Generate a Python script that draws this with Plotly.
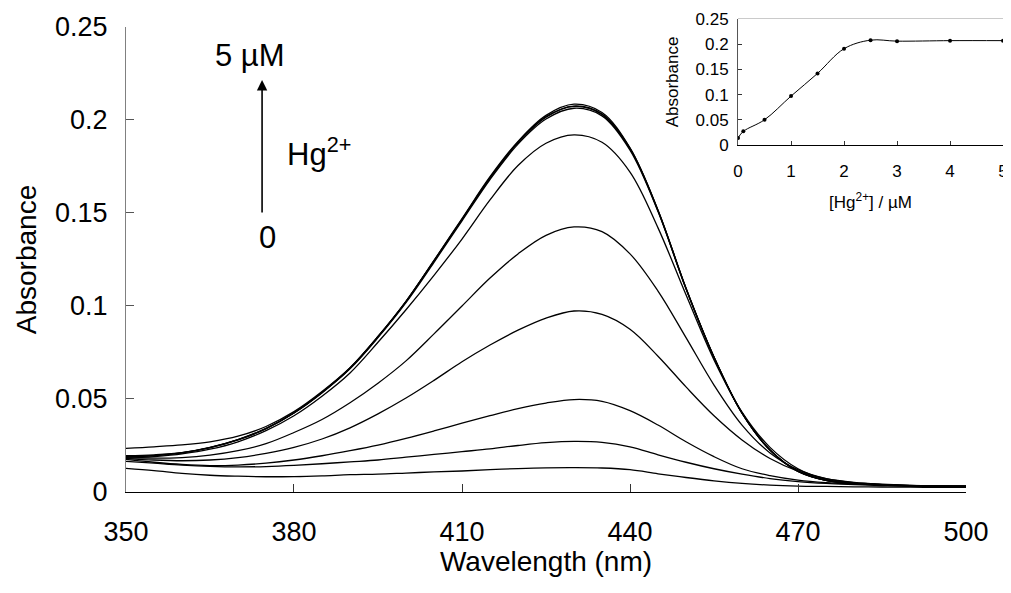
import plotly.graph_objects as go

# ---------------- data ----------------
wavelength = [350, 355, 360, 365, 370, 375, 380, 385, 390, 395, 400, 405, 410, 415, 420,
              425, 430, 435, 440, 445, 450, 455, 460, 465, 470, 475, 480, 485, 490, 495, 500]

abs_0uM = [0.0127, 0.0115, 0.0100, 0.0090, 0.0085, 0.0082, 0.0083, 0.0087, 0.0093, 0.0096, 0.0102,
           0.0108, 0.0113, 0.0120, 0.0126, 0.0130, 0.0131, 0.0129, 0.0120, 0.0098, 0.0078, 0.0060,
           0.0046, 0.0037, 0.0032, 0.0030, 0.0028, 0.0027, 0.0026, 0.0025, 0.0025]
abs_01uM = [0.0165, 0.0155, 0.0145, 0.0138, 0.0135, 0.0137, 0.0143, 0.0152, 0.0162, 0.0172, 0.0187,
            0.0202, 0.0217, 0.0232, 0.0250, 0.0265, 0.0272, 0.0267, 0.0243, 0.0200, 0.0160, 0.0125,
            0.0096, 0.0072, 0.0056, 0.0046, 0.0040, 0.0035, 0.0032, 0.0030, 0.0030]
abs_05uM = [0.0175, 0.0160, 0.0148, 0.0142, 0.0145, 0.0155, 0.0172, 0.0195, 0.0222, 0.0252, 0.0288,
            0.0328, 0.0370, 0.0410, 0.0448, 0.0478, 0.0497, 0.0487, 0.0437, 0.0360, 0.0270, 0.0190,
            0.0125, 0.0088, 0.0064, 0.0050, 0.0042, 0.0037, 0.0033, 0.0031, 0.0030]
abs_1uM = [0.0180, 0.0172, 0.0168, 0.0172, 0.0185, 0.0208, 0.0240, 0.0285, 0.0345, 0.0420, 0.0505,
           0.0600, 0.0700, 0.0790, 0.0870, 0.0935, 0.0973, 0.0955, 0.0875, 0.0730, 0.0565, 0.0410,
           0.0280, 0.0180, 0.0112, 0.0072, 0.0052, 0.0042, 0.0036, 0.0032, 0.0030]
abs_15uM = [0.0185, 0.0182, 0.0185, 0.0198, 0.0222, 0.0260, 0.0320, 0.0390, 0.0480, 0.0585, 0.0705,
            0.0850, 0.1000, 0.1150, 0.1280, 0.1380, 0.1425, 0.1400, 0.1280, 0.1080, 0.0830, 0.0575,
            0.0360, 0.0210, 0.0120, 0.0072, 0.0050, 0.0040, 0.0035, 0.0032, 0.0030]
abs_2uM = [0.0180, 0.0190, 0.0205, 0.0230, 0.0270, 0.0330, 0.0410, 0.0515, 0.0640, 0.0805, 0.0980,
           0.1165, 0.1360, 0.1570, 0.1755, 0.1875, 0.1920, 0.1880, 0.1720, 0.1420, 0.1060, 0.0710,
           0.0430, 0.0240, 0.0125, 0.0068, 0.0047, 0.0038, 0.0033, 0.0030, 0.0030]
abs_25uM = [0.0190, 0.0195, 0.0210, 0.0238, 0.0280, 0.0340, 0.0425, 0.0535, 0.0665, 0.0835, 0.1025,
            0.1245, 0.1470, 0.1695, 0.1885, 0.2025, 0.2085, 0.2040, 0.1850, 0.1515, 0.1095, 0.0725,
            0.0425, 0.0225, 0.0110, 0.0062, 0.0045, 0.0037, 0.0033, 0.0031, 0.0030]
abs_3uM = [0.0195, 0.0200, 0.0212, 0.0240, 0.0282, 0.0342, 0.0425, 0.0533, 0.0662, 0.0830, 0.1018,
           0.1235, 0.1458, 0.1680, 0.1870, 0.2005, 0.2063, 0.2022, 0.1838, 0.1508, 0.1092, 0.0723,
           0.0424, 0.0226, 0.0112, 0.0063, 0.0046, 0.0038, 0.0034, 0.0032, 0.0031]
abs_4uM = [0.0188, 0.0196, 0.0211, 0.0239, 0.0281, 0.0341, 0.0426, 0.0536, 0.0667, 0.0836, 0.1024,
           0.1242, 0.1465, 0.1688, 0.1878, 0.2015, 0.2073, 0.2030, 0.1845, 0.1512, 0.1094, 0.0724,
           0.0424, 0.0225, 0.0111, 0.0062, 0.0045, 0.0037, 0.0033, 0.0031, 0.0030]
abs_5uM = [0.0235, 0.0243, 0.0253, 0.0270, 0.0300, 0.0352, 0.0432, 0.0540, 0.0668, 0.0836, 0.1025,
           0.1243, 0.1466, 0.1690, 0.1880, 0.2018, 0.2075, 0.2032, 0.1848, 0.1514, 0.1096, 0.0726,
           0.0425, 0.0226, 0.0112, 0.0063, 0.0046, 0.0038, 0.0034, 0.0032, 0.0031]

spectra = [abs_0uM, abs_01uM, abs_05uM, abs_1uM, abs_15uM,
           abs_2uM, abs_25uM, abs_3uM, abs_4uM, abs_5uM]

# inset titration
hg_conc = [0, 0.1, 0.5, 1, 1.5, 2, 2.5, 3, 4, 5]
abs_430 = [0.014, 0.027, 0.050, 0.097, 0.142, 0.191, 0.208, 0.206, 0.207, 0.207]

x_ticks = [350, 380, 410, 440, 470, 500]
y_ticks = [0, 0.05, 0.1, 0.15, 0.2, 0.25]
y_ticktext = ["0", "0.05", "0.1", "0.15", "0.2", "0.25"]
inset_x_ticks = [0, 1, 2, 3, 4, 5]

FONT = "Liberation Sans, Arial, sans-serif"

fig = go.Figure()
for s in spectra:
    fig.add_trace(go.Scatter(x=wavelength, y=s, mode="lines",
                             line=dict(color="black", width=1.3, shape="spline"),
                             xaxis="x", yaxis="y", showlegend=False, hoverinfo="skip"))

fig.add_trace(go.Scatter(x=hg_conc, y=abs_430, mode="lines+markers",
                         line=dict(color="black", width=1, shape="spline"),
                         marker=dict(color="black", size=4),
                         xaxis="x2", yaxis="y2", showlegend=False))

fig.update_layout(
    width=1011, height=593,
    margin=dict(l=0, r=0, t=0, b=0, autoexpand=False),
    paper_bgcolor="white", plot_bgcolor="white",
    font=dict(family=FONT, color="black"),
    xaxis=dict(domain=[0.1167, 0.9476], anchor="y", range=[350, 500], automargin=False,
               tickvals=x_ticks, ticks="inside", ticklen=8, tickcolor="#333",
               showline=True, linecolor="black", linewidth=1.2,
               showgrid=False, zeroline=False,
               tickfont=dict(size=27), ticklabelstandoff=15,
               title=dict(text="Wavelength (nm)", font=dict(size=28), standoff=4)),
    yaxis=dict(domain=[0.1838, 0.968], anchor="x", range=[0, 0.25], automargin=False,
               tickvals=y_ticks, ticktext=y_ticktext, ticks="inside", ticklen=8,
               tickcolor="#555", showline=True, linecolor="#808080", linewidth=1.2,
               showgrid=False, zeroline=False,
               tickfont=dict(size=27), ticklabelstandoff=12,
               title=dict(text="Absorbance", font=dict(size=28), standoff=10)),
    xaxis2=dict(domain=[0.7221, 0.9842], anchor="y2", range=[0, 5], automargin=False,
                tickvals=inset_x_ticks, ticks="inside", ticklen=4, tickcolor="#333",
                showline=True, linecolor="black", linewidth=1,
                showgrid=False, zeroline=False,
                tickfont=dict(size=17), ticklabelstandoff=11,
                title=dict(text="[Hg<sup>2+</sup>] / µM", font=dict(size=17), standoff=15)),
    yaxis2=dict(domain=[0.769, 0.9815], anchor="x2", range=[0, 0.25], automargin=False,
                tickvals=y_ticks, ticktext=y_ticktext, ticks="inside", ticklen=4,
                tickcolor="#333", showline=True, linecolor="#555", linewidth=1,
                showgrid=False, zeroline=False,
                tickfont=dict(size=17), ticklabelstandoff=5,
                title=dict(text="Absorbance", font=dict(size=17), standoff=12)),
)

# grey frame of the inset
fig.add_shape(type="rect", xref="x2 domain", yref="y2 domain", x0=0, x1=1, y0=0, y1=1,
              line=dict(color="#9a9a9a", width=1), layer="below")

# arrow annotation
fig.add_annotation(x=374.3, y=0.2215, ax=374.3, ay=0.1495, xref="x", yref="y",
                   axref="x", ayref="y", text="", showarrow=True,
                   arrowhead=2, arrowsize=1.3, arrowwidth=1.6, arrowcolor="black")
fig.add_annotation(x=372.1, y=0.2344, xref="x", yref="y", text="5 µM", showarrow=False,
                   font=dict(size=31))
fig.add_annotation(x=375.2, y=0.1368, xref="x", yref="y", text="0", showarrow=False,
                   font=dict(size=31))
fig.add_annotation(x=378.4, y=0.1828, xref="x", yref="y", text="Hg<sup>2+</sup>",
                   showarrow=False, xanchor="left", font=dict(size=31))

fig.write_html("out.html")
